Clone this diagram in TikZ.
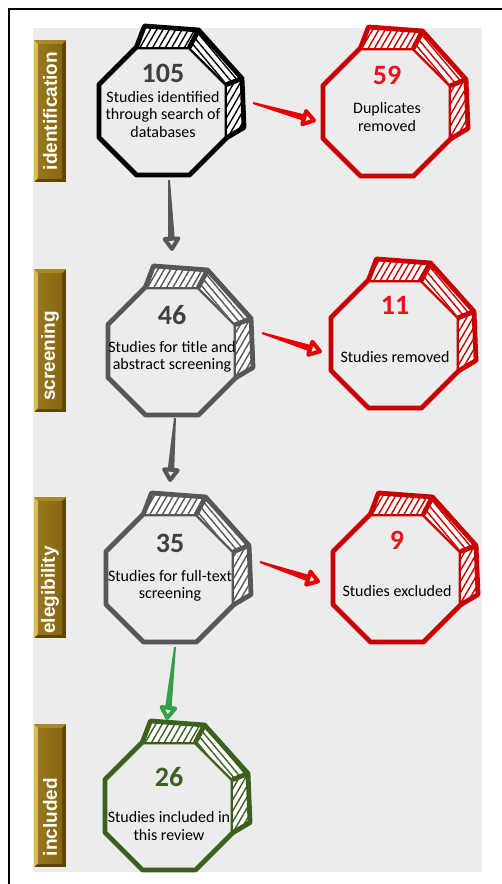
\documentclass[tikz,border=0pt]{standalone}
\usepackage{fontspec}
\setmainfont{Carlito}
\newfontfamily\barfont{Liberation Sans}
\usepackage{xcolor}
\usepackage{tikz}
\usetikzlibrary{shapes.geometric,patterns.meta}
\usetikzlibrary{arrows.meta,calc}

\definecolor{bggray}{HTML}{ECECEC}
\definecolor{numgray}{HTML}{404040}
\definecolor{boxred}{HTML}{C80000}
\definecolor{numred}{HTML}{E8141B}
\definecolor{arrowred}{HTML}{E60000}
\definecolor{boxgray}{HTML}{575757}
\definecolor{boxgreen}{HTML}{3C601F}
\definecolor{arrowgreen}{HTML}{36A048}
\definecolor{golddark}{HTML}{5E4506}
\definecolor{goldface}{HTML}{866710}
\definecolor{goldmid}{HTML}{A8892A}
\definecolor{goldlight}{HTML}{D9BD4C}

\begin{document}
\begin{tikzpicture}[x=1pt,y=1pt,
    octo/.style={regular polygon, regular polygon sides=8, minimum size=138.6pt,
                 inner sep=0pt, outer sep=0pt, line width=4.8pt, line join=round},
    numtxt/.style={font=\fontsize{28}{30}\selectfont\bfseries, inner sep=0pt},
    desc/.style={font=\fontsize{16}{17.5}\selectfont, align=center, inner sep=0pt},
    bartxt/.style={font=\barfont\bfseries\fontsize{19}{21}\selectfont, text=white, rotate=90, inner sep=0pt}]

\useasboundingbox (0,0) rectangle (502,-884);
\draw[line width=1.2pt] (9,-9) rectangle (540,-920);
\fill[bggray] (33,-28) rectangle (482,-872);

% stage bars on the left
\foreach \lbl/\yt/\yb/\ytx in {identification/40/182/111,screening/269/412/356,elegibility/497/638/590,included/724/867/817}{
    \fill[golddark] (34,-\yt) rectangle (66,-\yb);
    \fill[goldmid] (34,-\yt) -- (66,-\yt) -- (62,{-\yt-4}) -- (38,{-\yt-4}) -- cycle;
    \fill[goldlight] (34,-\yt) -- (38,{-\yt-4}) -- (38,{-\yb+4}) -- (34,-\yb) -- cycle;
    \shade[left color=goldface!80!goldlight, right color=goldface] (38,{-\yt-4}) rectangle (62,{-\yb+4});
    \node[bartxt] (lab-\lbl) at (50,-\ytx) {\lbl};
}

% octagon boxes with hatched sides
\foreach \nm/\cx/\cy/\col/\ncol/\ndy/\tdy/\txt in {
    105/163/-111/black/numgray/38/-3/{Studies identified\\through search of\\databases},
    59/387/-112/boxred/numred/37/-5/{Duplicates\\removed},
    46/172/-351/boxgray/numgray/36/-6/{Studies for title and\\abstract screening},
    11/395/-344/boxred/numred/39/-13/{Studies removed},
    35/170/-578/boxgray/numgray/35/-8/{Studies for full-text\\screening},
    9/397/-578/boxred/numred/38/-13/{Studies excluded},
    26/169/-806/boxgreen/boxgreen/29/-20/{Studies included in\\this review}}{
    \node[octo, draw=\col] (n\nm) at (\cx,\cy) {};
    \foreach \ang/\dx/\dy [count=\k] in {112.5/8/21,67.5/9/17,22.5/15/6,-22.5/17/10}{
        \coordinate (f\k) at ($(n\nm.center)+(\ang:69.3)$);
        \coordinate (b\k) at ($(f\k)+(\dx,\dy)$);
    }
    \foreach \i/\j/\hang in {1/2/60,2/3/-50,3/4/60}
        \path[preaction={fill=white}, pattern color=\col,
              pattern={Lines[angle=\hang,distance=5.5pt,line width=1.4pt]}]
              (f\i) -- (f\j) -- (b\j) -- (b\i) -- cycle;
    \draw[\col, line width=4.8pt, line join=round, line cap=round]
        (f1) -- (b1) -- (b2) -- (b3) -- (b4) -- (f4) (f2) -- (b2) (f3) -- (b3);
    \node[numtxt, text=\ncol] (num\nm) at ([yshift=\ndy pt]n\nm.center) {\nm};
    \node[desc] (txt\nm) at ([yshift=\tdy pt]n\nm.center) {\txt};
}

% sketchy arrows
\foreach \fn/\fx/\fy/\tn/\tx/\ty/\col in {
    n105.south/6/-5/n46.north/0/36/boxgray,
    n46.south/3/-3/n35.north/0/32/boxgray,
    n35.south/5/-5/n26.north/-2/22/arrowgreen,
    n105.east/26/8/n59.west/-7/-9/arrowred,
    n46.east/26/18/n11.west/-9/-8/arrowred,
    n35.east/26/16/n9.west/-13/-4/arrowred}{
    \coordinate (hs) at ($(\fn)+(\fx,\fy)$);
    \coordinate (he) at ($(\tn)+(\tx,\ty)$);
    \coordinate (hb) at ($(he)!14pt!(hs)$);
    \fill[\col] ($(hs)!1pt!90:(hb)$) -- ($(hb)!3.2pt!-90:(hs)$) -- ($(hb)!3.2pt!90:(hs)$) -- ($(hs)!1pt!-90:(hb)$) -- cycle;
    \draw[\col, line width=0.1pt,
          -{Triangle[round, length=16pt, width=20pt, line width=4pt, fill=bggray]}] (hb) -- (he);
}

\end{tikzpicture}
\end{document}
